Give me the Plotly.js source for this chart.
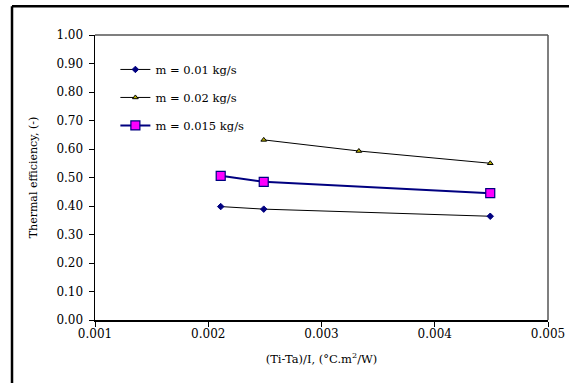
<!DOCTYPE html>
<html>
<head>
<meta charset="utf-8">
<script src="https://cdn.plot.ly/plotly-3.0.1.min.js"></script>
<style>html,body{margin:0;padding:0;background:#fff;}#chart{width:569px;height:383px;}</style>
</head>
<body>
<div id="chart"></div>
<script>
const seriesNames = ["m = 0.01 kg/s", "m = 0.02 kg/s", "m = 0.015 kg/s"];
const x001 = [0.00211, 0.00249, 0.00449];
const y001 = [0.398, 0.389, 0.364];
const x002 = [0.00249, 0.00333, 0.00449];
const y002 = [0.632, 0.593, 0.550];
const x0015 = [0.00211, 0.00249, 0.00449];
const y0015 = [0.506, 0.485, 0.445];
const yTickVals = [0,0.1,0.2,0.3,0.4,0.5,0.6,0.7,0.8,0.9,1.0];
const xTickVals = [0.001,0.002,0.003,0.004,0.005];

const FONT = "'DejaVu Serif', serif";

const traces = [
  {x: x001, y: y001, name: seriesNames[0], mode: "lines+markers", legendgroup: "a",
   line: {color: "#000000", width: 1},
   marker: {symbol: "diamond", size: 5, color: "#000080", line: {color: "#000080", width: 1}}},
  {x: x002, y: y002, name: seriesNames[1], mode: "lines+markers", legendgroup: "b",
   line: {color: "#000000", width: 1},
   marker: {symbol: "triangle-up", size: 5, color: "#B8B000", line: {color: "#000000", width: 1}}},
  {x: x0015, y: y0015, name: seriesNames[2], mode: "lines+markers", legendgroup: "c",
   line: {color: "#000080", width: 2},
   marker: {symbol: "square", size: 9, color: "#FF00FF", line: {color: "#000080", width: 1.2}}}
];

const layout = {
  width: 569, height: 383,
  margin: {l: 95, r: 21, t: 35, b: 63},
  paper_bgcolor: "#ffffff", plot_bgcolor: "#ffffff",
  font: {family: FONT, size: 12, color: "#000"},
  showlegend: true,
  legend: {x: 0.045, y: 0.93, xanchor: "left", yanchor: "top", bgcolor: "rgba(0,0,0,0)",
           font: {family: FONT, size: 11.5, color: "#000"}, tracegroupgap: 9, traceorder: "grouped"},
  xaxis: {range: [0.001, 0.005], tickvals: xTickVals, ticktext: xTickVals.map(v => v.toFixed(3)),
          ticks: "outside", ticklen: 5, tickcolor: "#000", showgrid: false, zeroline: false,
          showline: true, linecolor: "#000", linewidth: 1.5, mirror: false,
          tickfont: {family: FONT, size: 12}, ticklabelstandoff: -3,
          title: {text: "(Ti-Ta)/I, (°C.m<sup>2</sup>/W)", font: {family: FONT, size: 11.5}, standoff: 15}},
  yaxis: {range: [0, 1.0], tickvals: yTickVals, ticktext: yTickVals.map(v => v.toFixed(2)),
          ticks: "outside", ticklen: 5, tickcolor: "#000", showgrid: false, zeroline: false,
          showline: true, linecolor: "#000", linewidth: 1.5, mirror: false,
          tickfont: {family: FONT, size: 12}, ticklabelstandoff: 3,
          title: {text: "Thermal efficiency, (-)", font: {family: FONT, size: 11}, standoff: 16}},
  shapes: [
    {type: "line", xref: "paper", yref: "paper", x0: 1, x1: 1, y0: 0, y1: 1, line: {color: "#555", width: 1.5}},
    {type: "line", xref: "paper", yref: "paper", x0: 0, x1: 1, y0: 1, y1: 1, line: {color: "#555", width: 1.5}},
    {type: "line", xref: "paper", yref: "paper", x0: -0.1832, x1: 1.2, y0: 1.1007, y1: 1.1007, line: {color: "#000", width: 2.5}},
    {type: "line", xref: "paper", yref: "paper", x0: -0.1832, x1: -0.1832, y0: -0.3, y1: 1.1007, line: {color: "#000", width: 2.5}}
  ]
};

Plotly.newPlot("chart", traces, layout, {displayModeBar: false, staticPlot: true});
</script>
</body>
</html>
